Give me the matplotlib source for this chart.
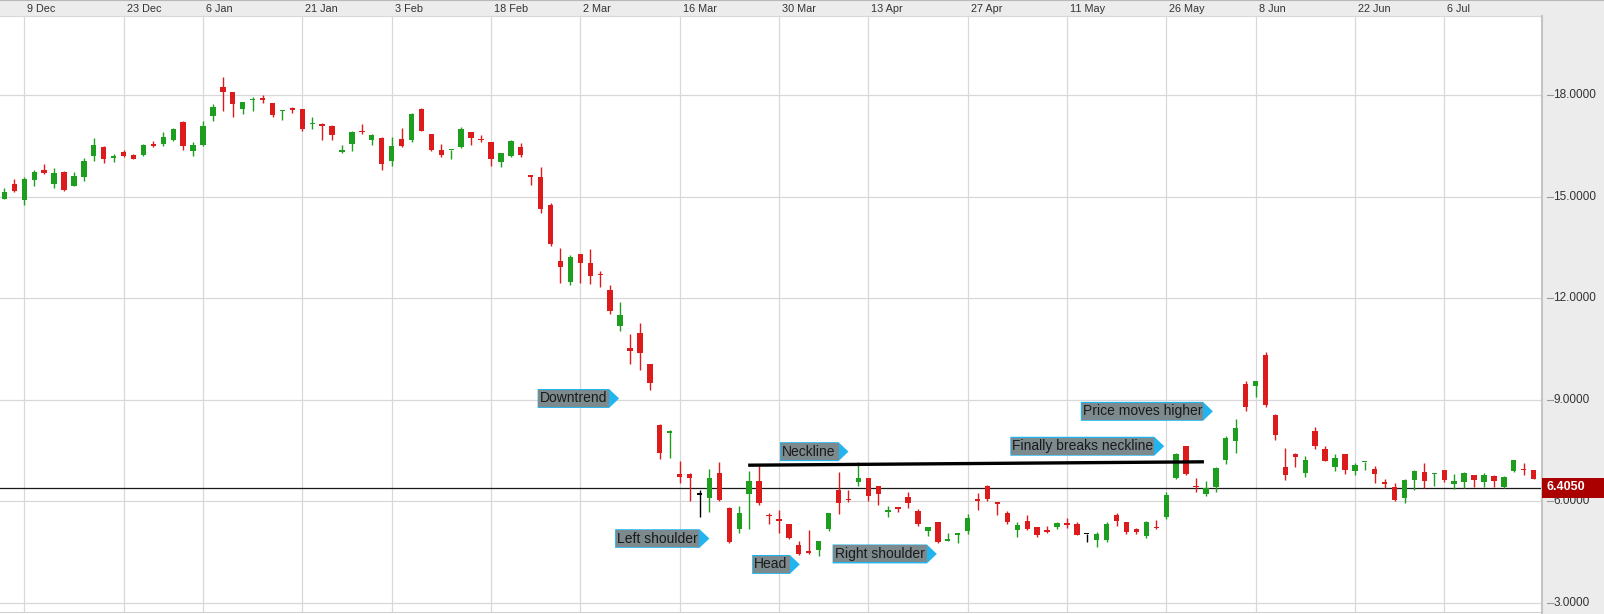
import matplotlib
matplotlib.use("Agg")
import matplotlib.pyplot as plt
from matplotlib.patches import Polygon, Rectangle

plt.rcParams['font.family'] = ['Liberation Sans', 'DejaVu Sans']

# daily candles, one per trading day (5 Dec 2019 .. 20 Jul 2020)
opens = [14.94, 15.36, 14.90, 15.49, 15.78, 15.37, 15.74, 15.31, 15.58, 16.19,
         16.47, 16.15, 16.31, 16.24, 16.22, 16.55, 16.56, 16.68, 17.19, 16.34,
         16.53, 17.38, 18.24, 18.09, 17.59, 17.85, 17.92, 17.75, 17.53, 17.61,
         17.59, 17.13, 17.15, 17.09, 16.33, 16.56, 16.95, 16.68, 16.74, 16.04,
         16.70, 16.67, 17.59, 16.85, 16.38, 16.37, 16.46, 16.91, 16.71, 16.61,
         16.03, 16.20, 16.46, 15.61, 15.57, 14.74, 13.10, 12.49, 13.31, 13.05,
         12.72, 12.25, 11.17, 10.54, 10.97, 10.06, 8.25, 8.03, 6.81, 6.81,
         6.20, 6.09, 6.83, 5.82, 5.19, 6.21, 6.60, 5.60, 5.47, 5.33,
         4.70, 4.53, 4.56, 5.20, 6.33, 6.08, 6.56, 6.68, 6.45, 5.70,
         5.83, 6.12, 5.72, 5.13, 5.39, 4.83, 5.02, 5.13, 6.06, 6.45,
         5.97, 5.66, 5.16, 5.41, 5.24, 5.14, 5.26, 5.37, 5.32, 5.04,
         4.85, 4.85, 5.59, 5.39, 5.18, 4.97, 5.26, 5.54, 6.69, 7.64,
         6.47, 6.21, 6.42, 7.21, 7.78, 9.47, 9.41, 10.31, 8.54, 7.01,
         7.41, 6.84, 8.07, 7.56, 7.01, 7.39, 6.90, 7.15, 6.96, 6.56,
         6.42, 6.10, 6.62, 6.87, 6.81, 6.92, 6.52, 6.57, 6.77, 6.57,
         6.74, 6.44, 6.90, 6.96, 6.92, 6.62]
highs = [15.24, 15.51, 15.59, 15.78, 15.95, 15.83, 15.75, 15.73, 16.14, 16.74,
         16.48, 16.27, 16.39, 16.27, 16.56, 16.65, 16.91, 17.04, 17.24, 16.60,
         17.24, 17.74, 18.54, 18.10, 17.80, 17.95, 18.01, 17.76, 17.56, 17.66,
         17.60, 17.35, 17.16, 17.10, 16.52, 16.93, 17.15, 16.84, 16.75, 16.75,
         17.02, 17.48, 17.63, 16.86, 16.54, 16.39, 17.05, 16.92, 16.81, 16.62,
         16.30, 16.67, 16.57, 15.62, 15.87, 14.82, 13.48, 13.28, 13.32, 13.45,
         12.81, 12.40, 11.88, 10.95, 11.28, 10.07, 8.28, 8.11, 7.19, 6.83,
         6.35, 6.97, 7.15, 5.83, 5.88, 6.91, 7.04, 5.67, 5.74, 5.34,
         4.84, 5.15, 4.84, 5.67, 6.87, 6.33, 7.16, 6.69, 6.46, 5.86,
         5.84, 6.28, 5.79, 5.26, 5.40, 5.06, 5.07, 5.62, 6.24, 6.48,
         5.98, 5.73, 5.39, 5.61, 5.25, 5.28, 5.38, 5.52, 5.39, 5.05,
         5.10, 5.38, 5.67, 5.40, 5.21, 5.41, 5.44, 6.27, 7.44, 7.65,
         6.70, 6.59, 7.01, 7.92, 8.44, 9.57, 9.57, 10.42, 8.57, 7.59,
         7.42, 7.33, 8.19, 7.65, 7.39, 7.40, 7.13, 7.17, 7.06, 6.67,
         6.55, 6.65, 6.92, 7.14, 6.85, 6.94, 6.82, 6.87, 6.78, 6.83,
         6.79, 6.75, 7.23, 7.13, 6.93, 6.65]
lows = [14.92, 15.15, 14.75, 15.31, 15.67, 15.24, 15.18, 15.30, 15.46, 16.04,
        15.99, 16.02, 16.17, 16.10, 16.19, 16.46, 16.48, 16.63, 16.39, 16.21,
        16.48, 17.24, 17.54, 17.36, 17.44, 17.54, 17.75, 17.34, 17.27, 17.46,
        16.94, 17.01, 16.68, 16.68, 16.29, 16.34, 16.86, 16.53, 15.80, 15.90,
        16.46, 16.62, 16.94, 16.36, 16.18, 16.11, 16.43, 16.51, 16.61, 15.89,
        15.86, 16.16, 16.18, 15.35, 14.53, 13.53, 12.46, 12.40, 12.46, 12.41,
        12.32, 11.53, 11.02, 10.06, 9.89, 9.30, 7.24, 7.27, 6.53, 6.02,
        5.55, 5.69, 6.02, 4.78, 5.08, 5.20, 5.89, 5.33, 5.06, 4.90,
        4.42, 4.44, 4.40, 5.13, 5.63, 5.99, 6.45, 6.01, 5.90, 5.53,
        5.68, 5.81, 5.28, 4.98, 4.78, 4.82, 4.76, 5.03, 5.74, 6.00,
        5.61, 5.34, 4.95, 5.16, 4.95, 5.08, 5.19, 5.22, 5.00, 4.80,
        4.65, 4.80, 5.27, 5.05, 5.05, 4.93, 5.19, 5.49, 6.65, 6.77,
        6.28, 6.16, 6.28, 7.11, 7.43, 8.68, 9.08, 8.78, 7.82, 6.64,
        7.01, 6.72, 7.56, 7.18, 6.90, 6.80, 6.77, 6.92, 6.54, 6.40,
        6.01, 5.95, 6.35, 6.40, 6.47, 6.57, 6.37, 6.40, 6.44, 6.44,
        6.44, 6.40, 6.87, 6.77, 6.65, 6.40]
closes = [15.14, 15.17, 15.51, 15.74, 15.70, 15.70, 15.19, 15.62, 16.04, 16.52,
          16.11, 16.21, 16.21, 16.12, 16.53, 16.50, 16.76, 17.00, 16.50, 16.52,
          17.09, 17.65, 18.09, 17.72, 17.79, 17.89, 17.85, 17.42, 17.55, 17.56,
          17.00, 17.16, 17.07, 16.81, 16.37, 16.91, 16.90, 16.83, 15.95, 16.48,
          16.48, 17.44, 16.95, 16.38, 16.23, 16.39, 17.00, 16.74, 16.67, 16.10,
          16.29, 16.65, 16.23, 15.59, 14.63, 13.60, 12.91, 13.23, 13.03, 12.67,
          12.68, 11.61, 11.51, 10.43, 10.38, 9.51, 7.42, 8.07, 6.73, 6.70,
          6.20, 6.68, 6.04, 4.81, 5.65, 6.61, 5.94, 5.56, 5.43, 4.93,
          4.44, 4.48, 4.83, 5.65, 5.94, 6.05, 6.68, 6.17, 6.23, 5.75,
          5.78, 5.96, 5.33, 5.25, 4.81, 4.89, 5.05, 5.50, 6.02, 6.08,
          5.91, 5.39, 5.31, 5.19, 5.00, 5.11, 5.37, 5.31, 5.02, 5.04,
          5.04, 5.34, 5.41, 5.10, 5.09, 5.39, 5.21, 6.19, 7.41, 6.82,
          6.42, 6.39, 6.98, 7.88, 8.17, 8.78, 9.57, 8.86, 7.95, 6.77,
          7.31, 7.21, 7.63, 7.19, 7.29, 6.92, 7.09, 7.17, 6.81, 6.52,
          6.03, 6.62, 6.89, 6.60, 6.83, 6.62, 6.60, 6.85, 6.62, 6.77,
          6.60, 6.73, 7.21, 6.92, 6.67, 6.405]

# date labels on the top bar (trading-day index, text)
date_idx = [2, 12, 20, 30, 39, 49, 58, 68, 78, 87, 97, 107, 117, 126, 136, 145]
date_labels = ['9 Dec', '23 Dec', '6 Jan', '21 Jan', '3 Feb', '18 Feb', '2 Mar',
               '16 Mar', '30 Mar', '13 Apr', '27 Apr', '11 May', '26 May',
               '8 Jun', '22 Jun', '6 Jul']
price_ticks = [3, 6, 9, 12, 15, 18]
last_price = 6.405

# neckline end points (index, price)
neck_x = [74.9, 120.8]
neck_y = [7.07, 7.17]

tag_texts = ['Downtrend', 'Neckline', 'Left shoulder', 'Head', 'Right shoulder',
             'Finally breaks neckline', 'Price moves higher']

GREEN = '#1e9e1e'
RED = '#dc1c1c'
GRID = '#d8d8d8'
PANEL = '#ececec'

W, H = 1604, 614
fig = plt.figure(figsize=(W / 100, H / 100), dpi=100)
fig.patch.set_facecolor('white')

# pixel layout: plot 0..1542 wide, 16..612 tall
px_per_day = 9.93
x_lo = -4.4 / px_per_day
x_hi = x_lo + 1542 / px_per_day
y_hi = 18 + (95 - 16) / 33.87
y_lo = 18 - (612 - 95) / 33.87

ax = fig.add_axes([0, 2 / H, 1542 / W, 596 / H])
ax.set_xlim(x_lo, x_hi)
ax.set_ylim(y_lo, y_hi)
for s in ['top', 'right', 'left']:
    ax.spines[s].set_visible(False)
ax.spines['bottom'].set_color('#d0d0d0')
ax.set_xticks([])
ax.set_yticks([])

for i in date_idx:
    ax.axvline(i, color=GRID, lw=0.9, zorder=0)
for p in price_ticks:
    ax.axhline(p, color=GRID, lw=0.9, zorder=0)

ax.axhline(last_price, color='#1a1a1a', lw=0.9, zorder=1)

# candles
n = len(opens)
xs = list(range(n))
colors = []
for o, c in zip(opens, closes):
    if c > o:
        colors.append(GREEN)
    elif c < o:
        colors.append(RED)
    else:
        colors.append('black')
ax.vlines(xs, lows, highs, colors=colors, lw=1.0, zorder=2)
bottoms = [min(o, c) for o, c in zip(opens, closes)]
heights = [max(abs(c - o), 0.035) for o, c in zip(opens, closes)]
ax.bar(xs, heights, bottom=bottoms, width=0.54, color=colors, linewidth=0, zorder=3)

# neckline
ax.plot(neck_x, neck_y, color='black', lw=2.4, solid_capstyle='butt', zorder=4)


def tag(text, x0, x1, y0, y1):
    # blue arrow underneath, grey label box on top
    tip = x1 + 1.0
    ym = (y0 + y1) / 2
    ax.add_patch(Polygon([(x0, y0), (x1, y0), (tip, ym), (x1, y1), (x0, y1)],
                         closed=True, fc='#22b4ee', ec='none', zorder=5))
    ax.add_patch(Rectangle((x0 + 0.08, y0 + 0.03), x1 - x0 - 0.08, y1 - y0 - 0.06,
                           fc='#7c898d', ec='none', zorder=6))
    ax.text(x0 + 0.22, ym, text, ha='left', va='center', fontsize=10,
            color='#1a1a1a', zorder=7)


tag(tag_texts[0], 53.7, 60.9, 8.76, 9.32)
tag(tag_texts[1], 78.1, 84.0, 7.19, 7.75)
tag(tag_texts[2], 61.5, 70.0, 4.63, 5.18)
tag(tag_texts[3], 75.3, 79.1, 3.86, 4.42)
tag(tag_texts[4], 83.4, 92.9, 4.17, 4.73)
tag(tag_texts[5], 101.3, 115.8, 7.35, 7.91)
tag(tag_texts[6], 108.4, 120.7, 8.38, 8.94)

# top date bar
top = fig.add_axes([0, 598 / H, 1, 16 / H])
top.set_facecolor(PANEL)
top.set_xlim(x_lo, x_lo + W / px_per_day)
top.set_ylim(0, 1)
top.set_xticks([])
top.set_yticks([])
for s in ['left', 'right']:
    top.spines[s].set_visible(False)
top.spines['top'].set_color('#b8b8b8')
top.spines['bottom'].set_color('#d8d8d8')
for i, lab in zip(date_idx, date_labels):
    top.text(i + 0.3, 0.45, lab, ha='left', va='center', fontsize=7.8, color='#333333')

# right price panel
side = fig.add_axes([1542 / W, 0, 62 / W, 598 / H])
side.set_facecolor(PANEL)
side.set_xlim(0, 1)
side.set_ylim(18 - (614 - 95) / 33.87, y_hi)
side.set_xticks([])
side.set_yticks([])
for s in ['top', 'right', 'bottom']:
    side.spines[s].set_visible(False)
side.spines['left'].set_color('#c4c4c4')
side.spines['left'].set_linewidth(1.5)
for p in price_ticks:
    side.plot([0.08, 0.17], [p, p], color='#999999', lw=0.8)
    side.text(0.18, p, '%.4f' % p, ha='left', va='center', fontsize=8.5, color='#333333')

side.add_patch(Rectangle((0, last_price - 0.29), 1, 0.58, fc='#aa0000', ec='none', zorder=5))
side.text(0.08, last_price + 0.01, '%.4f' % last_price, ha='left', va='center',
          fontsize=9, fontweight='bold', color='white', zorder=6)

plt.savefig('out.png', dpi=100)
